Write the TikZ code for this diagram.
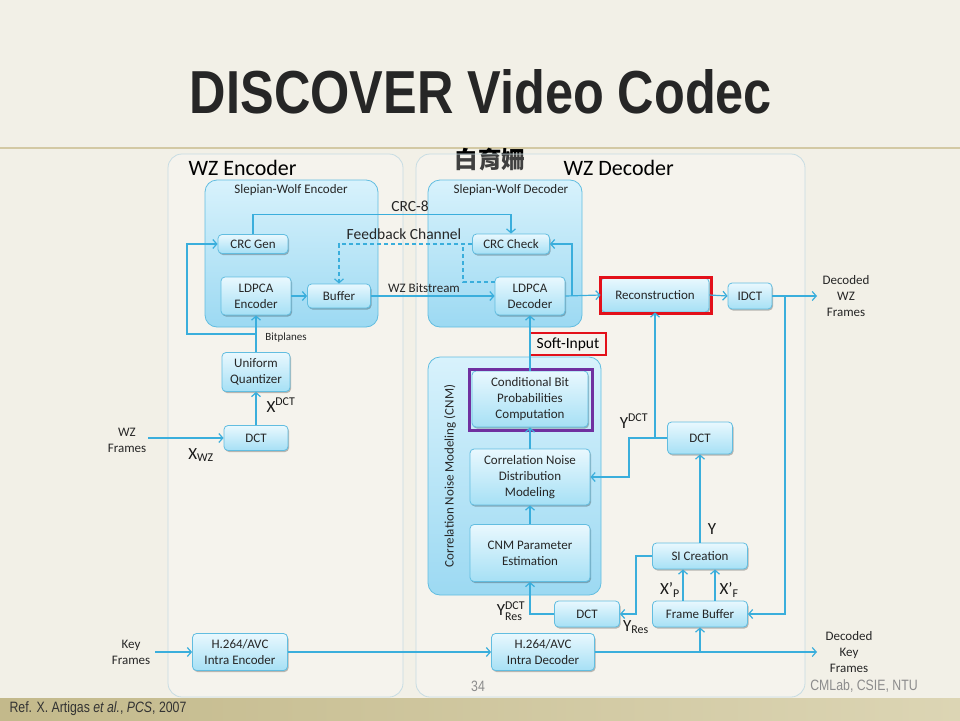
\documentclass[tikz,border=0pt]{standalone}
\usepackage{fontspec}
\usepackage{amsmath}
\usepackage{graphicx}
\setmainfont{Carlito}
\newfontfamily\titlefont{Liberation Sans}
\newfontfamily\footfont{Liberation Sans}
\newfontfamily\cjk{Noto Sans CJK TC}
\usetikzlibrary{arrows.meta,shadows}

\newcommand{\narrowtext}[1]{\scalebox{0.82}[1]{#1}}

\definecolor{slidebg}{HTML}{F2F0E7}
\definecolor{wirec}{HTML}{3AAEDC}
\definecolor{boxtop}{HTML}{E9F8FE}
\definecolor{boxbot}{HTML}{A6E0F5}
\definecolor{boxline}{HTML}{62BDE0}
\definecolor{grptop}{HTML}{D8F2FC}
\definecolor{grpbot}{HTML}{9CD9F2}
\definecolor{panelline}{HTML}{C7DCE3}
\definecolor{markred}{HTML}{E3101A}
\definecolor{markpurple}{HTML}{7030A0}
\definecolor{bandleft}{HTML}{C3B98B}
\definecolor{bandright}{HTML}{DCD5B4}
\definecolor{rulec}{HTML}{D3C9A4}
\definecolor{footgray}{HTML}{8C8C8C}

\tikzset{
  block/.style={draw=boxline, line width=0.8pt, rounded corners=4pt,
    top color=boxtop, bottom color=boxbot, align=center, inner sep=1pt,
    font=\fontsize{13}{16}\selectfont, text=black!85,
    drop shadow={shadow xshift=1pt, shadow yshift=-1.5pt, opacity=0.25, fill=black}},
  group/.style={draw=boxline, line width=0.8pt, rounded corners=12pt,
    top color=grptop, bottom color=grpbot},
  panel/.style={draw=panelline, line width=0.8pt, rounded corners=14pt,
    fill=white, fill opacity=0.25},
  wire/.style={draw=wirec, line width=1.2pt, -{Straight Barb[length=4pt,width=9pt]}},
  link/.style={draw=wirec, line width=1.2pt},
  feedback/.style={dash pattern=on 4pt off 3pt},
  lbl/.style={align=center, font=\fontsize{13}{16}\selectfont, text=black!85},
  sym/.style={font=\fontsize{17}{20}\selectfont, text=black!90, inner sep=0pt},
  redbox/.style={draw=markred, line width=3pt},
  foot/.style={font=\footfont\fontsize{15}{17}\selectfont, text=footgray}
}

\begin{document}
\begin{tikzpicture}[x=1pt,y=-1pt]

    % Slide background, rule and bottom band
    \fill[slidebg] (0,0) rectangle (960,720);
    \useasboundingbox (0,0) rectangle (960,720);
    \draw[rulec, line width=1.2pt] (0,148) -- (960,148);
    \fill[left color=bandleft, right color=bandright] (0,698) rectangle (960,720);

    % Title and name
    \node[text=black!85] (title) at (481,92)
        {\resizebox{582pt}{44pt}{\titlefont\bfseries DISCOVER Video Codec}};
    \node[font=\cjk\bfseries\fontsize{23.5}{25}\selectfont] (author) at (490,160) {白育姍};

    % Encoder and decoder panels
    \draw[panel] (168,154) rectangle (403,697);
    \draw[panel] (416,154) rectangle (805,697);
    \node[anchor=west, font=\fontsize{22}{24}\selectfont] (enctitle) at (185,168) {WZ Encoder};
    \node[anchor=west, font=\fontsize{22}{24}\selectfont] (dectitle) at (560,168) {WZ Decoder};

    % Slepian-Wolf groups and the CNM group
    \draw[group] (205,180) rectangle (378,327);
    \draw[group] (428,180) rectangle (582,327);
    \draw[group] (428,357) rectangle (601,595);
    \node[lbl] (swenc) at (291,190) {Slepian-Wolf Encoder};
    \node[lbl] (swdec) at (511,190) {Slepian-Wolf Decoder};
    \node[lbl, rotate=90] (cnm) at (450,476) {Correlation Noise Modeling (CNM)};

    % Encoder blocks
    \node[block, minimum width=70pt, minimum height=19pt] (crcgen) at (253,244) {CRC Gen};
    \node[block, minimum width=70pt, minimum height=38pt] (ldpcaenc) at (256,296) {LDPCA\\Encoder};
    \node[block, minimum width=63pt, minimum height=24pt] (buffer) at (339,296) {Buffer};
    \node[block, minimum width=68pt, minimum height=39pt] (uq) at (256,372) {Uniform\\Quantizer};
    \node[block, minimum width=64pt, minimum height=25pt] (dctenc) at (256,438) {DCT};
    \node[block, minimum width=95pt, minimum height=37pt] (h264enc) at (240,652) {H.264/AVC\\Intra Encoder};

    % Decoder blocks
    \node[block, minimum width=77pt, minimum height=20pt] (crccheck) at (511,244) {CRC Check};
    \node[block, minimum width=70pt, minimum height=38pt] (ldpcadec) at (530,296) {LDPCA\\Decoder};
    \node[block, minimum width=108pt, minimum height=34pt] (recon) at (655,295) {Reconstruction};
    \node[block, minimum width=44pt, minimum height=26pt] (idct) at (750,296) {IDCT};
    \node[block, minimum width=116pt, minimum height=56pt] (condbit) at (530,399)
        {Conditional Bit\\Probabilities\\Computation};
    \node[block, minimum width=120pt, minimum height=56pt] (corrnoise) at (530,477)
        {Correlation Noise\\Distribution\\Modeling};
    \node[block, minimum width=120pt, minimum height=57pt] (cnmparam) at (530,553)
        {CNM Parameter\\Estimation};
    \node[block, minimum width=65pt, minimum height=32pt] (dctup) at (700,438) {DCT};
    \node[block, minimum width=95pt, minimum height=26pt] (sicreate) at (700,556) {SI Creation};
    \node[block, minimum width=95pt, minimum height=26pt] (framebuf) at (700,614) {Frame Buffer};
    \node[block, minimum width=65pt, minimum height=26pt] (dctlow) at (587,614) {DCT};
    \node[block, minimum width=103pt, minimum height=37pt] (h264dec) at (543,652) {H.264/AVC\\Intra Decoder};

    % Highlight frames
    \draw[redbox] (600,277) rectangle (711,313);
    \draw[draw=markpurple, line width=3pt] (469,369) rectangle (592,430);
    \node[redbox, line width=2.5pt, minimum width=76pt, minimum height=22pt, inner sep=0pt,
        font=\fontsize{15.5}{17}\selectfont] (softin) at (568,344) {Soft-Input};

    % Free ends of the connectors
    \coordinate (wzin) at (148,438);
    \coordinate (keyin) at (155,652);
    \coordinate (wzout) at (817,296);
    \coordinate (keyout) at (817,652);
    \coordinate (bp) at (256,334);
    \coordinate (bpl) at (187,334);
    \coordinate (fbj) at (463,244);
    \coordinate (decj) at (572,296);
    \coordinate (idctj) at (785,296);
    \coordinate (ydct) at (655,438);
    \coordinate (ybend) at (629,438);
    \coordinate (resbend) at (636,556);

    % Encoder connectors
    \draw[wire] (wzin) -- (dctenc.west);
    \draw[wire] (dctenc.north) -- (uq.south);
    \draw[wire] (uq.north) -- (ldpcaenc.south);
    \draw[wire] (bp) -- (bpl) |- (crcgen.west);
    \draw[wire] (ldpcaenc.east) -- (buffer.west);
    \draw[wire] (buffer.east) -- (ldpcadec.west);
    \draw[wire] (crcgen.north) -- ++(0,-20) -| (crccheck.north);
    \draw[wire, feedback] (crccheck.west) -| (buffer.north);
    \draw[link, feedback] ([yshift=14pt]ldpcadec.west) -| (fbj);
    \draw[wire] (keyin) -- (h264enc.west);
    \draw[wire] (h264enc.east) -- (h264dec.west);

    % Decoder connectors
    \draw[wire] (ldpcadec.east) -- (recon.west);
    \draw[wire] (decj) |- (crccheck.east);
    \draw[wire] (recon.east) -- (idct.west);
    \draw[wire] (idct.east) -- (wzout);
    \draw[wire] (idctj) |- (framebuf.east);
    \draw[wire] (condbit.north) -- (ldpcadec.south);
    \draw[wire] (corrnoise.north) -- (condbit.south);
    \draw[wire] (cnmparam.north) -- (corrnoise.south);
    \draw[wire] (dctup.west) -- (ybend) |- (corrnoise.east);
    \draw[wire] (ydct) -- (recon.south);
    \draw[wire] (sicreate.north) -- (dctup.south);
    \draw[wire] ([xshift=-17pt]framebuf.north) -- ([xshift=-17pt]sicreate.south);
    \draw[wire] ([xshift=15pt]framebuf.north) -- ([xshift=15pt]sicreate.south);
    \draw[wire] (sicreate.west) -- (resbend) |- (dctlow.east);
    \draw[wire] (dctlow.west) -| (cnmparam.south);
    \draw[wire] (h264dec.east) -- (keyout);
    \draw[wire] (framebuf.south |- keyout) -- (framebuf.south);

    % Connector labels
    \node[lbl] (crclbl) at (410,206) {\fontsize{15.5}{17}\selectfont CRC-8};
    \node[lbl] (fblbl) at (404,234) {\fontsize{15.5}{17}\selectfont Feedback Channel};
    \node[lbl] (bslbl) at (424,288) {WZ Bitstream};
    \node[lbl, font=\fontsize{11}{13}\selectfont] (bplbl) at (286,338) {Bitplanes};
    \node[lbl] (wzinlbl) at (127,440) {WZ\\Frames};
    \node[lbl] (keyinlbl) at (131,652) {Key\\Frames};
    \node[lbl] (wzoutlbl) at (846,296) {Decoded\\WZ\\Frames};
    \node[lbl] (keyoutlbl) at (849,652) {Decoded\\Key\\Frames};
    \node[sym] (xdct) at (281,405) {$\text{X}^{\text{DCT}}$};
    \node[sym] (xwz) at (201,455) {$\text{X}_{\text{WZ}}$};
    \node[sym] (ydctlbl) at (634,421) {$\text{Y}^{\text{DCT}}$};
    \node[sym] (ylbl) at (712,529) {Y};
    \node[sym] (xp) at (670,590) {$\text{X’}_{\text{P}}$};
    \node[sym] (xf) at (729,590) {$\text{X’}_{\text{F}}$};
    \node[sym] (yres) at (636,627) {$\text{Y}_{\text{Res}}$};
    \node[sym] (ydctres) at (511,611) {$\text{Y}^{\text{DCT}}_{\text{Res}}$};

    % Footer
    \node[foot] (page) at (478,686) {\narrowtext{34}};
    \node[foot] (lab) at (864,686) {\narrowtext{CMLab, CSIE, NTU}};
    \node[foot, text=black!80, anchor=west] (ref) at (6,709)
        {\narrowtext{Ref. X. Artigas \textit{et al.}, \textit{PCS}, 2007}};

\end{tikzpicture}
\end{document}
